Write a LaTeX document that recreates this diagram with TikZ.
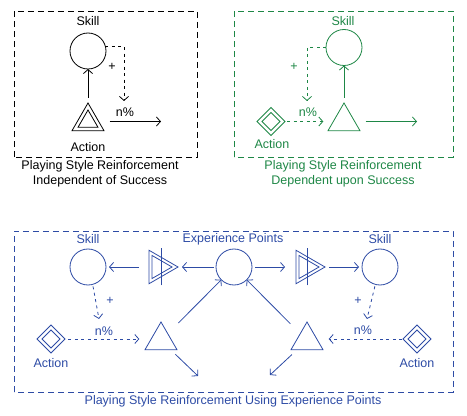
\documentclass[tikz,border=0pt]{standalone}
\usepackage{fontspec}
\setmainfont{Liberation Sans}
\usetikzlibrary{arrows.meta,shapes.geometric}
\definecolor{grn}{RGB}{30,135,70}
\definecolor{blu}{RGB}{45,75,165}
\begin{document}
\begin{tikzpicture}[x=1pt,y=1pt,
  every node/.style={font=\fontsize{12.5}{15}\selectfont},
  lbl/.style={inner sep=0pt},
  frame/.style={line width=0.9pt, dash pattern=on 6pt off 4pt},
  ln/.style={line width=0.8pt},
  arr/.style={ln,-{Straight Barb[length=4pt,width=9pt]}},
  dotarr/.style={arr, dash pattern=on 3pt off 3.5pt},
  circ/.style={circle,draw,ln,minimum size=36pt,inner sep=0pt,outer sep=0pt},
  tri/.style={regular polygon,regular polygon sides=3,draw,ln,minimum size=#1,inner sep=0pt,outer sep=0pt},
  rtri/.style={tri=#1,shape border rotate=-90},
  dia/.style={diamond,draw,ln,minimum size=#1,inner sep=0pt,outer sep=0pt}
]
\useasboundingbox (0,0) rectangle (467,416);

% ---------- Panel 1 (black) ----------
\begin{scope}[color=black]
\draw[frame] (14,259) rectangle (197,405);
\node[lbl] (sk1) at (88,395) {Skill};
\node[circ] (s1) at (88,365) {};
\node[tri=37] (t1) at (88,294.5) {};
\node[tri=23] (t1i) at (88,294.5) {};
\node[lbl] (a1) at (88,269) {Action};
\draw[arr, shorten <=5pt] (t1.corner 1) -- (s1.south);
\coordinate (n1) at (124,315);
\draw[dotarr] (s1.15) -| (n1);
\node[lbl] (p1) at (112,349) {+};
\node[lbl] (q1) at (125,304) {n\%};
\coordinate (o1) at (161,294.5);
\draw[arr, shorten <=11pt] (t1.east) -- (o1);
\node[align=center,inner sep=0pt] (c1) at (100,242.5) {Playing Style Reinforcement\\Independent of Success};
\end{scope}

% ---------- Panel 2 (green) ----------
\begin{scope}[color=grn]
\draw[frame] (234,259) rectangle (453,405);
\node[lbl] (sk2) at (343,395) {Skill};
\node[circ] (s2) at (344,368.5) {};
\node[tri=37] (t2) at (344,294.5) {};
\node[dia=28pt] (d2) at (271,294.5) {};
\node[dia=18pt] (d2i) at (271,294.5) {};
\node[lbl] (a2) at (272,272) {Action};
\draw[arr, shorten <=5pt] (t2.corner 1) -- (s2.south);
\coordinate (n2) at (307,315);
\draw[dotarr] (s2.west) -| (n2);
\node[lbl] (p2) at (294,349) {+};
\node[lbl] (q2) at (308,304) {n\%};
\draw[dotarr, shorten <=2pt, shorten >=10pt] (d2.east) -- (t2.west);
\coordinate (o2) at (417,294.5);
\draw[arr, shorten <=11pt] (t2.east) -- (o2);
\node[align=center,inner sep=0pt] (c2) at (343,242.5) {Playing Style Reinforcement\\Dependent upon Success};
\end{scope}

% ---------- Panel 3 (blue) ----------
\begin{scope}[color=blu]
\draw[frame] (14,24) rectangle (453,185);
\node[lbl] (skL) at (88,177) {Skill};
\node[lbl] (ep) at (233,177) {Experience Points};
\node[lbl] (skR) at (380,177) {Skill};
\node[circ] (sL) at (88,149) {};
\node[circ] (ce) at (234,149) {};
\node[circ] (sR) at (380,149) {};
% converters
\node[rtri=38.6] (cL) at (158.7,149) {};
\node[rtri=26.6] (cLi) at (158.7,149) {};
\draw[ln] ([xshift=2.3pt,yshift=-18.5pt]cL.center) -- ([xshift=2.3pt,yshift=18.5pt]cL.center);
\node[rtri=38.6] (cR) at (305.7,149) {};
\node[rtri=26.6] (cRi) at (305.7,149) {};
\draw[ln] ([xshift=2pt,yshift=-18.5pt]cR.center) -- ([xshift=2pt,yshift=18.5pt]cR.center);
\draw[arr, shorten <=2pt, shorten >=4pt] (ce) -- (cL);
\draw[arr, shorten <=10pt, shorten >=3pt] (cL) -- (sL);
\draw[arr, shorten <=3pt, shorten >=11pt] (ce) -- (cR);
\draw[arr, shorten <=4pt, shorten >=3pt] (cR) -- (sR);
% triangles
\node[tri=37] (tL) at (161,75.5) {};
\node[tri=37] (tR) at (307,75.5) {};
\draw[arr, shorten <=15pt] (tL) -- (ce);
\draw[arr, shorten <=14pt] (tR) -- (ce);
\coordinate (eL) at (198,40);
\coordinate (eR) at (270,41);
\draw[arr, shorten <=6.5pt] (tL) -- (eL);
\draw[arr, shorten <=7pt] (tR) -- (eR);
% diamonds
\node[dia=28pt] (dL) at (51,77) {};
\node[dia=18pt] (dLi) at (51,77) {};
\node[dia=28pt] (dR) at (417,77) {};
\node[dia=18pt] (dRi) at (417,77) {};
\node[lbl] (aL) at (51,53) {Action};
\node[lbl] (aR) at (417,53) {Action};
\draw[dotarr, shorten <=3pt, shorten >=11pt] (dL.east) -- (dL.east -| tL.west);
\draw[dotarr, shorten <=1pt, shorten >=11pt] (dR.west) -- (dR.west -| tR.east);
% skill -> n%
\coordinate (nL) at (99,97);
\coordinate (nR) at (367,97);
\draw[dotarr, shorten <=2pt] (sL.-75) -- (nL);
\draw[dotarr, shorten <=2pt] (sR.-105) -- (nR);
\node[lbl] (pL) at (110,115) {+};
\node[lbl] (qL) at (104,85) {n\%};
\node[lbl] (pR) at (358,115) {+};
\node[lbl] (qR) at (363,86) {n\%};
\node[inner sep=0pt] (c3) at (233,14.3) {Playing Style Reinforcement Using Experience Points};
\end{scope}
\end{tikzpicture}
\end{document}
